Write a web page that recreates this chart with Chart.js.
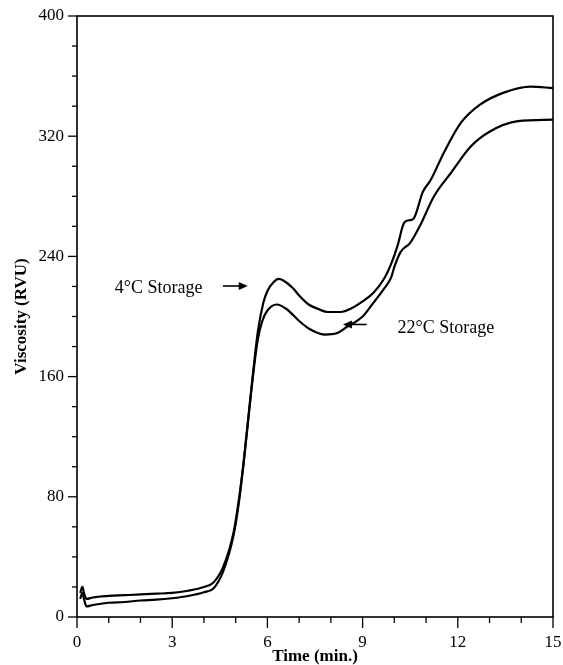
<!DOCTYPE html>
<html>
<head>
<meta charset="utf-8">
<script src="https://cdn.jsdelivr.net/npm/chart.js@4/dist/chart.umd.min.js"></script>
<style>
html,body{margin:0;padding:0;background:#fff;}
#wrap{width:563px;height:665px;position:relative;}
</style>
</head>
<body>
<div id="wrap"><canvas id="c" width="563" height="665"></canvas></div>
<script>
// ---- data ----
const time4C = [0.1, 0.17, 0.22, 0.3, 0.5, 1, 1.5, 2, 2.5, 3, 3.5, 4, 4.3, 4.6, 4.93, 5.1, 5.25, 5.4, 5.56, 5.7, 5.87, 6.0, 6.2, 6.35, 6.5, 6.8, 7.0, 7.3, 7.6, 7.9, 8.3, 8.7, 9.0, 9.35, 9.7, 9.9, 10.1, 10.3, 10.45, 10.6, 10.9, 11.15, 11.56, 12.1, 12.7, 13.45, 14.3, 15];
const visc4C = [16, 20, 16, 12, 13, 14, 14.5, 15, 15.5, 16, 17.5, 20, 23, 33, 56, 78, 103, 133, 165, 190, 209, 217, 223, 225, 224, 219, 214, 208, 205, 203, 203, 206, 210, 216, 226, 235, 247, 262, 264, 265, 283, 291, 309, 329, 341, 349, 353, 352];
const time22C = [0.1, 0.17, 0.22, 0.3, 0.5, 1, 1.5, 2, 2.5, 3, 3.5, 4, 4.3, 4.6, 4.93, 5.1, 5.25, 5.4, 5.56, 5.7, 5.84, 6.0, 6.3, 6.6, 7.0, 7.3, 7.8, 8.2, 8.5, 9.0, 9.3, 9.66, 9.9, 10.0, 10.2, 10.5, 10.8, 11.25, 11.8, 12.4, 13.0, 13.9, 15];
const visc22C = [12, 16, 12, 7, 8, 9.5, 10, 11, 11.5, 12.5, 14, 16.5, 19, 30, 54, 76, 102, 132, 163, 185, 197, 204, 208, 205, 197, 192, 188, 189, 193, 200, 208, 218, 226, 233, 243, 249, 260, 280, 296, 313, 323, 330, 331];
const xTickLabels = [0, 3, 6, 9, 12, 15];
const yTickLabels = [0, 80, 160, 240, 320, 400];
const seriesNames = ['4°C Storage', '22°C Storage'];
const annotations = [
  {text: '4°C Storage', x: 1.19, y: 218.7, arrowFrom: [4.6, 220.3], arrowTo: [5.38, 220.3]},
  {text: '22°C Storage', x: 10.1, y: 192, arrowFrom: [9.13, 194.7], arrowTo: [8.38, 194.7]}
];

const SERIF = '"Liberation Serif", "Times New Roman", serif';

const toPts = (xs, ys) => xs.map((x, i) => ({x: x, y: ys[i]}));

const frameAndTicks = {
  id: 'frameAndTicks',
  afterDraw(chart) {
    const ctx = chart.ctx;
    const a = chart.chartArea;
    const xs = chart.scales.x, ys = chart.scales.y;
    ctx.save();
    ctx.strokeStyle = '#000';
    ctx.lineWidth = 1.6;
    ctx.strokeRect(a.left, a.top, a.right - a.left, a.bottom - a.top);
    ctx.lineWidth = 1.3;
    for (let v = 0; v <= 15; v++) {
      const px = xs.getPixelForValue(v);
      const len = xTickLabels.includes(v) ? 11 : 6;
      ctx.beginPath(); ctx.moveTo(px, a.bottom); ctx.lineTo(px, a.bottom + len); ctx.stroke();
    }
    for (let v = 0; v <= 400; v += 20) {
      const py = ys.getPixelForValue(v);
      const len = yTickLabels.includes(v) ? 9 : 5;
      ctx.beginPath(); ctx.moveTo(a.left, py); ctx.lineTo(a.left - len, py); ctx.stroke();
    }
    ctx.fillStyle = '#000';
    annotations.forEach(an => {
      ctx.font = '18px ' + SERIF;
      ctx.textBaseline = 'middle';
      ctx.textAlign = 'left';
      ctx.fillText(an.text, xs.getPixelForValue(an.x), ys.getPixelForValue(an.y));
      const x1 = xs.getPixelForValue(an.arrowFrom[0]), y1 = ys.getPixelForValue(an.arrowFrom[1]);
      const x2 = xs.getPixelForValue(an.arrowTo[0]), y2 = ys.getPixelForValue(an.arrowTo[1]);
      const dir = Math.sign(x2 - x1);
      ctx.lineWidth = 1.6;
      ctx.beginPath(); ctx.moveTo(x1, y1); ctx.lineTo(x2 - dir * 6, y2); ctx.stroke();
      ctx.beginPath();
      ctx.moveTo(x2, y2);
      ctx.lineTo(x2 - dir * 9, y2 - 4);
      ctx.lineTo(x2 - dir * 9, y2 + 4);
      ctx.closePath(); ctx.fill();
    });
    ctx.restore();
  }
};

new Chart(document.getElementById('c'), {
  type: 'line',
  data: {
    datasets: [
      {label: seriesNames[0], data: toPts(time4C, visc4C), borderColor: '#000', borderWidth: 2.2, pointRadius: 0, cubicInterpolationMode: 'monotone', fill: false},
      {label: seriesNames[1], data: toPts(time22C, visc22C), borderColor: '#000', borderWidth: 2.2, pointRadius: 0, cubicInterpolationMode: 'monotone', fill: false}
    ]
  },
  options: {
    responsive: false,
    animation: false,
    devicePixelRatio: 1,
    layout: {padding: {top: 16, right: 10, left: 0, bottom: 0}},
    plugins: {legend: {display: false}, tooltip: {enabled: false}},
    scales: {
      x: {
        type: 'linear', min: 0, max: 15,
        grid: {display: false},
        border: {display: false},
        afterBuildTicks: s => { s.ticks = xTickLabels.map(v => ({value: v})); },
        afterFit: s => { s.height = 48; s.paddingLeft = 0; s.paddingRight = 0; },
        ticks: {color: '#000', padding: 7, maxRotation: 0, font: {family: SERIF, size: 17}},
        title: {display: true, text: 'Time (min.)', color: '#000', font: {family: SERIF, size: 17, weight: 'bold'}, padding: {top: 0, bottom: -2}}
      },
      y: {
        type: 'linear', min: 0, max: 400,
        grid: {display: false},
        border: {display: false},
        afterBuildTicks: s => { s.ticks = yTickLabels.map(v => ({value: v})); },
        afterFit: s => { s.width = 77; s.paddingTop = 0; s.paddingBottom = 0; },
        ticks: {color: '#000', padding: 5, font: {family: SERIF, size: 17}},
        title: {display: true, text: 'Viscosity (RVU)', color: '#000', font: {family: SERIF, size: 17, weight: 'bold'}, padding: {top: 11, bottom: 0}}
      }
    }
  },
  plugins: [frameAndTicks]
});
</script>
</body>
</html>
